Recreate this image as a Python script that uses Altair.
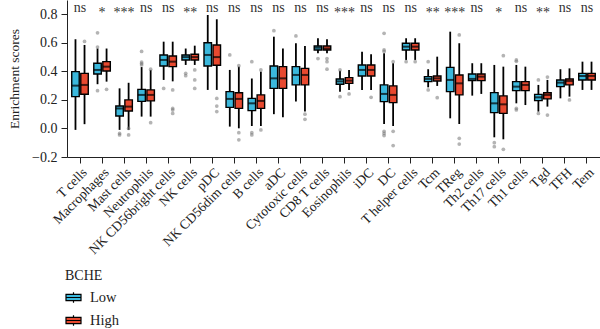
import altair as alt
import pandas as pd

cats = ["T cells", "Macrophages", "Mast cells", "Neutrophils", "NK CD56bright cells",
        "NK cells", "pDC", "NK CD56dim cells", "B cells", "aDC", "Cytotoxic cells",
        "CD8 T cells", "Eosinophils", "iDC", "DC", "T helper cells", "Tcm", "TReg",
        "Th2 cells", "Th17 cells", "Th1 cells", "Tgd", "TFH", "Tem"]
sig = ["ns", "*", "***", "ns", "ns", "**", "ns", "ns", "ns", "ns", "ns", "ns",
       "***", "ns", "ns", "ns", "**", "***", "ns", "*", "ns", "**", "ns", "ns"]
groups = ["Low", "High"]
y_ticks = [-0.2, 0.0, 0.2, 0.4, 0.6, 0.8]

# Low group: whisker min, q1, median, q3, whisker max
low_min = [-0.01, 0.31, -0.01, 0.083, 0.34, 0.445, 0.27, 0.013, 0.017, 0.10, 0.188, 0.527,
           0.258, 0.27, 0.031, 0.48, 0.288, 0.071, 0.23, -0.062, 0.176, 0.118, 0.211, 0.27]
low_q1 = [0.223, 0.382, 0.087, 0.19, 0.438, 0.48, 0.438, 0.148, 0.125, 0.281, 0.305, 0.55,
          0.31, 0.368, 0.188, 0.55, 0.328, 0.258, 0.335, 0.111, 0.265, 0.195, 0.293, 0.34]
low_med = [0.30, 0.41, 0.14, 0.235, 0.48, 0.50, 0.515, 0.207, 0.176, 0.351, 0.375, 0.566,
           0.33, 0.41, 0.242, 0.573, 0.347, 0.34, 0.347, 0.176, 0.293, 0.218, 0.321, 0.368]
low_q3 = [0.398, 0.457, 0.157, 0.274, 0.515, 0.515, 0.60, 0.258, 0.211, 0.438, 0.433, 0.578,
          0.347, 0.445, 0.305, 0.597, 0.363, 0.428, 0.382, 0.251, 0.328, 0.239, 0.34, 0.386]
low_max = [0.625, 0.56, 0.281, 0.43, 0.608, 0.56, 0.795, 0.41, 0.35, 0.643, 0.597, 0.632,
           0.405, 0.538, 0.527, 0.632, 0.415, 0.678, 0.457, 0.445, 0.445, 0.305, 0.415, 0.468]
low_out = [[], [0.67, 0.265, 0.57], [-0.035, -0.045], [0.54, 0.445, 0.455, 0.465], [0.28],
           [0.386, 0.37], [], [0.515], [0.468, -0.03, -0.045], [0.685], [0.648], [0.49],
           [0.223, 0.41], [], [0.667, 0.54, 0.55, -0.02, -0.035, -0.05], [0.468],
           [0.27, 0.468], [], [], [-0.10, -0.128], [0.48, 0.47, 0.14, 0.13], [0.34, 0.105],
           [], []]

# High group
high_min = [0.03, 0.328, -0.01, 0.083, 0.33, 0.445, 0.27, 0.001, 0.017, 0.078, 0.118, 0.527,
            0.27, 0.27, 0.017, 0.48, 0.298, 0.031, 0.242, -0.076, 0.164, 0.153, 0.223, 0.27]
high_q1 = [0.24, 0.403, 0.122, 0.193, 0.433, 0.48, 0.443, 0.141, 0.141, 0.281, 0.305, 0.55,
           0.316, 0.368, 0.181, 0.55, 0.333, 0.235, 0.335, 0.106, 0.265, 0.207, 0.305, 0.34]
high_med = [0.305, 0.433, 0.153, 0.235, 0.468, 0.50, 0.50, 0.207, 0.193, 0.351, 0.375, 0.56,
            0.335, 0.41, 0.235, 0.573, 0.351, 0.316, 0.363, 0.169, 0.305, 0.235, 0.333, 0.368]
high_q3 = [0.386, 0.468, 0.20, 0.27, 0.508, 0.52, 0.585, 0.25, 0.235, 0.433, 0.421, 0.578,
           0.356, 0.445, 0.298, 0.597, 0.368, 0.375, 0.382, 0.228, 0.328, 0.25, 0.347, 0.386]
high_max = [0.585, 0.56, 0.32, 0.41, 0.608, 0.58, 0.765, 0.433, 0.398, 0.56, 0.578, 0.625,
            0.41, 0.52, 0.457, 0.632, 0.503, 0.597, 0.457, 0.433, 0.433, 0.34, 0.421, 0.468]
high_out = [[0.61], [0.274], [-0.045, 0.0], [0.04, 0.415], [0.27, 0.14, 0.13, 0.105],
            [0.41, 0.34, 0.28], [0.21, 0.157, 0.118], [0.44, -0.03, -0.08], [0.41, -0.01],
            [], [0.1, 0.064], [0.49, 0.468, 0.415], [0.242], [0.218], [0.468, -0.02, -0.12],
            [0.468], [0.216], [0.655, -0.069, -0.109], [], [0.51, -0.146], [], [0.36, 0.094],
            [0.2], []]

colors = ["#3BB8DC", "#E8492F"]
FONT = "Liberation Serif"

rows = []
outs = []
for g, mn, q1, md, q3, mx, ol in [
    ("Low", low_min, low_q1, low_med, low_q3, low_max, low_out),
    ("High", high_min, high_q1, high_med, high_q3, high_max, high_out),
]:
    for i, c in enumerate(cats):
        rows.append(dict(cat=c, group=g, mn=mn[i], q1=q1[i], med=md[i], q3=q3[i], mx=mx[i]))
        for v in ol[i]:
            outs.append(dict(cat=c, group=g, v=v))
box_df = pd.DataFrame(rows)
out_df = pd.DataFrame(outs)
sig_df = pd.DataFrame(dict(cat=cats, sig=sig, y=[0.818] * len(cats)))

xenc = alt.X("cat:N", sort=cats, title=None,
             scale=alt.Scale(paddingInner=0.2, paddingOuter=0.19),
             axis=alt.Axis(labelAngle=-45, labelFont=FONT, labelFontSize=13.5,
                           labelColor="#222", tickColor="#222", domainColor="#222",
                           tickSize=6, labelPadding=2, labelOverlap=False))
xoff = alt.XOffset("group:N", sort=groups,
                   scale=alt.Scale(domain=groups, paddingInner=0.05, paddingOuter=0))
yscale = alt.Scale(domain=[-0.2, 0.9], nice=False, zero=False)
yaxis = alt.Axis(values=y_ticks, format=".1f", labelFont=FONT,
                 labelFontSize=14, labelColor="#222", titleFont=FONT, titleFontSize=13.5,
                 titleFontWeight="normal", titleColor="#222", tickColor="#222",
                 domainColor="#222", tickSize=6, labelPadding=4, titlePadding=10, grid=False,
                 labelOverlap=False, labelFlush=False, labelBound=False)
YT = "Enrichment scores"


def yenc(field):
    return alt.Y(field, type="quantitative", scale=yscale, axis=yaxis, title=YT)


base = alt.Chart(box_df)
whisk = base.mark_rule(color="black", strokeWidth=1.8).encode(
    x=xenc, xOffset=xoff, y=yenc("mn"), y2="mx:Q")
boxes = base.mark_bar(size=7.5, stroke="black", strokeWidth=1.4).encode(
    x=xenc, xOffset=xoff,
    y=yenc("q1"),
    y2="q3:Q",
    fill=alt.Fill("group:N", sort=groups,
                  scale=alt.Scale(domain=groups, range=colors),
                  legend=alt.Legend(title="BCHE", orient="none", legendX=-2, legendY=269,
                                    symbolType="M-1,-0.42L1,-0.42L1,0.42L-1,0.42Z M-1,0L1,0 M0,-0.42L0,-0.7 M0,0.42L0,0.7",
                                    symbolSize=225, symbolStrokeColor="black",
                                    symbolStrokeWidth=1.2,
                                    titleFont=FONT, titleFontSize=14, titleFontWeight="normal",
                                    titleColor="#222", labelFont=FONT, labelFontSize=14.5,
                                    labelColor="#222", rowPadding=6, titlePadding=6,
                                    labelOffset=8)))
meds = base.mark_tick(color="black", thickness=2, size=7.5).encode(
    x=xenc, xOffset=xoff, y=yenc("med"))
pts = alt.Chart(out_df).mark_circle(size=14, color="#777", opacity=0.55).encode(
    x=xenc, xOffset=xoff, y=yenc("v"))
ns_txt = alt.Chart(sig_df).transform_filter(alt.datum.sig == "ns").mark_text(
    font=FONT, fontSize=14, color="#333", baseline="alphabetic").encode(
    x=xenc, y=yenc("y"), text="sig:N")
star_txt = alt.Chart(sig_df).transform_filter(alt.datum.sig != "ns").mark_text(
    font=FONT, fontSize=14, color="#333", baseline="alphabetic", dy=5).encode(
    x=xenc, y=yenc("y"), text="sig:N")

chart = alt.layer(whisk, boxes, meds, pts, ns_txt, star_txt).properties(
    width=533, height=157,
    autosize=alt.AutoSizeParams(type="none"),
    padding={"left": 67, "top": 0, "right": 0, "bottom": 172},
).configure_view(stroke=None).configure_axis(grid=False)

chart.save("out.html", embed_options={"renderer": "svg", "actions": False})
